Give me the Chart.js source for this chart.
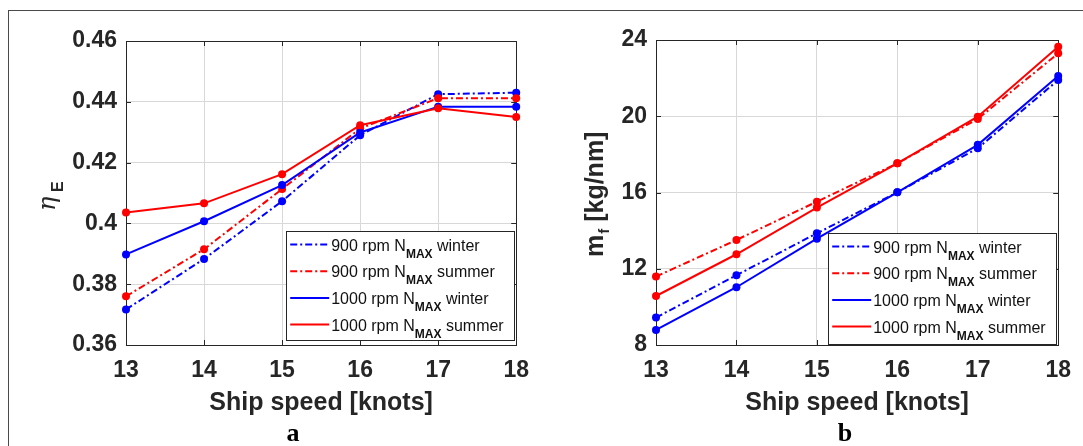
<!DOCTYPE html>
<html>
<head>
<meta charset="utf-8">
<script src="https://cdn.jsdelivr.net/npm/chart.js@4.4.1/dist/chart.umd.min.js"></script>
<style>
  body { margin: 0; background: #fff; }
  #wrap { position: relative; width: 1083px; height: 446px; overflow: hidden; }
  #frame { position: absolute; left: 8px; top: 10px; width: 1200px; height: 600px;
           border-left: 1.5px solid #4a4a4a; border-top: 1.5px solid #4a4a4a; }
  canvas { position: absolute; top: 0; }
</style>
</head>
<body>
<div id="wrap">
  <div id="frame"></div>
  <canvas id="chartA" width="541" height="446" style="left:0px"></canvas>
  <canvas id="chartB" width="542" height="446" style="left:541px"></canvas>
</div>
<script>
// ship speed [knots]
const speeds = [13, 14, 15, 16, 17, 18];

// engine efficiency eta_E
const effWinter900 = [0.3717, 0.3883, 0.4073, 0.4290, 0.4425, 0.4430];
const effSummer900 = [0.3760, 0.3915, 0.4113, 0.4312, 0.4412, 0.4412];
const effWinter1000 = [0.3898, 0.4007, 0.4126, 0.4299, 0.4384, 0.4384];
const effSummer1000 = [0.4036, 0.4066, 0.4162, 0.4323, 0.4379, 0.4350];

// fuel consumption m_f [kg/nm]
const fuelWinter900 = [9.44, 11.66, 13.86, 16.01, 18.32, 21.90];
const fuelSummer900 = [11.59, 13.51, 15.52, 17.53, 19.86, 23.30];
const fuelWinter1000 = [8.79, 11.03, 13.58, 16.01, 18.50, 22.11];
const fuelSummer1000 = [10.57, 12.76, 15.21, 17.53, 19.98, 23.65];

// tick labels
const speedTicks = [13, 14, 15, 16, 17, 18];
const effTicks = [0.36, 0.38, 0.4, 0.42, 0.44, 0.46];
const fuelTicks = [8, 12, 16, 20, 24];

// legend text: "<rpm> N_MAX <season>"
const legendRpm = ["900 rpm", "900 rpm", "1000 rpm", "1000 rpm"];
const legendSeason = ["winter", "summer", "winter", "summer"];

const BLUE = "#0000ff";
const RED = "#ff0000";
const INK = "#262626";
const DASHDOT = [7, 3, 2, 3];
const seriesColors = [BLUE, RED, BLUE, RED];
const seriesDash = [DASHDOT, DASHDOT, [], []];

function makeDatasets(values) {
  return values.map((vals, i) => ({
    label: legendRpm[i] + " N_MAX " + legendSeason[i],
    data: speeds.map((s, j) => ({ x: s, y: vals[j] })),
    borderColor: seriesColors[i],
    backgroundColor: seriesColors[i],
    borderWidth: 2,
    borderDash: seriesDash[i],
    pointRadius: 4,
    pointBorderWidth: 0,
    pointBackgroundColor: seriesColors[i],
    tension: 0,
    clip: false,
    order: 4 - i, // last series on top, like the original plot
  }));
}

// box, inward tick marks (drawn under the lines)
function drawAxesBox(chart) {
  const { ctx, chartArea: a, scales } = chart;
  ctx.save();
  ctx.strokeStyle = INK;
  ctx.lineWidth = 1;
  ctx.beginPath();
  scales.x.ticks.forEach((t) => {
    const px = Math.round(scales.x.getPixelForValue(t.value)) + 0.5;
    ctx.moveTo(px, a.bottom);
    ctx.lineTo(px, a.bottom - 5);
    ctx.moveTo(px, a.top);
    ctx.lineTo(px, a.top + 5);
  });
  scales.y.ticks.forEach((t) => {
    const py = Math.round(scales.y.getPixelForValue(t.value)) + 0.5;
    ctx.moveTo(a.left, py);
    ctx.lineTo(a.left + 5, py);
    ctx.moveTo(a.right, py);
    ctx.lineTo(a.right - 5, py);
  });
  ctx.stroke();
  ctx.strokeRect(Math.round(a.left) + 0.5, Math.round(a.top) + 0.5,
    Math.round(a.width), Math.round(a.height));
  ctx.restore();
}

function drawLegend(ctx, a, box) {
  const left = a.right - box.right - box.width;
  const top = a.bottom - box.bottom - box.height;
  ctx.save();
  ctx.fillStyle = "#fff";
  ctx.fillRect(left, top, box.width, box.height);
  ctx.strokeStyle = INK;
  ctx.lineWidth = 1;
  ctx.strokeRect(Math.round(left) + 0.5, Math.round(top) + 0.5, box.width, box.height);
  for (let i = 0; i < legendRpm.length; i++) {
    const y = top + 13.5 + i * 26.7;
    ctx.strokeStyle = seriesColors[i];
    ctx.lineWidth = 2;
    ctx.setLineDash(seriesDash[i]);
    ctx.beginPath();
    ctx.moveTo(left + 4, y);
    ctx.lineTo(left + 43, y);
    ctx.stroke();
    ctx.setLineDash([]);

    ctx.fillStyle = "#111";
    ctx.textAlign = "left";
    ctx.textBaseline = "alphabetic";
    let x = left + 45;
    ctx.font = "16px Arial";
    const main = legendRpm[i] + " N";
    ctx.fillText(main, x, y + 6);
    x += ctx.measureText(main).width;
    ctx.font = "bold 12px Arial";
    ctx.fillText("MAX", x, y + 13);
    x += ctx.measureText("MAX").width;
    ctx.font = "16px Arial";
    ctx.fillText(" " + legendSeason[i], x, y + 6);
  }
  ctx.restore();
}

function drawEtaTitle(ctx) {
  ctx.save();
  ctx.translate(55, 211);
  ctx.rotate(-Math.PI / 2);
  ctx.fillStyle = INK;
  ctx.textAlign = "left";
  ctx.textBaseline = "alphabetic";
  ctx.font = "italic 24px 'DejaVu Serif'";
  ctx.fillText("η", 0, 0);
  ctx.font = "bold 16px Arial";
  ctx.fillText("E", 19, 8);
  ctx.restore();
}

function drawFuelTitle(ctx) {
  ctx.save();
  ctx.translate(603 - 541, 257);
  ctx.rotate(-Math.PI / 2);
  ctx.fillStyle = INK;
  ctx.textAlign = "left";
  ctx.textBaseline = "alphabetic";
  ctx.font = "bold 25px Arial";
  ctx.fillText("m", 0, 0);
  let u = ctx.measureText("m").width + 1;
  ctx.font = "bold 15px Arial";
  ctx.fillText("f", u, 6);
  u += ctx.measureText("f").width;
  ctx.font = "bold 25px Arial";
  ctx.fillText(" [kg/nm]", u, 0);
  ctx.restore();
}

const decoPlugin = {
  id: "deco",
  beforeDatasetsDraw(chart) {
    drawAxesBox(chart);
  },
  afterDraw(chart, args, opts) {
    const { ctx, chartArea: a } = chart;
    drawLegend(ctx, a, opts.legendBox);
    ctx.save();
    ctx.fillStyle = INK;
    ctx.textAlign = "center";
    ctx.textBaseline = "middle";
    ctx.font = "bold 25px Arial";
    ctx.fillText("Ship speed [knots]", (a.left + a.right) / 2, a.bottom + 58);
    ctx.fillStyle = "#000";
    ctx.font = "bold 26px 'Liberation Serif'";
    ctx.fillText(opts.caption, opts.captionX, a.bottom + 89);
    ctx.restore();
    opts.yTitle(ctx);
  },
};

function makeChart(canvasId, values, yTicks, yMin, yMax, area, deco) {
  const canvas = document.getElementById(canvasId);
  return new Chart(canvas, {
    type: "line",
    data: { datasets: makeDatasets(values) },
    plugins: [decoPlugin],
    options: {
      responsive: false,
      animation: false,
      devicePixelRatio: 1,
      layout: {
        padding: { left: 0, top: area.top, right: canvas.width - area.right, bottom: 0 },
      },
      scales: {
        x: {
          type: "linear",
          min: 13,
          max: 18,
          afterBuildTicks: (scale) => {
            scale.ticks = speedTicks.map((v) => ({ value: v }));
          },
          afterFit: (scale) => {
            scale.height = canvas.height - area.bottom;
          },
          ticks: {
            color: INK,
            font: { family: "Arial", size: 23, weight: "bold" },
            padding: 12,
            maxRotation: 0,
            callback: (v) => String(v),
          },
          grid: { color: "#d8d8d8", lineWidth: 1, drawTicks: false },
          border: { color: INK, width: 1 },
        },
        y: {
          type: "linear",
          min: yMin,
          max: yMax,
          afterBuildTicks: (scale) => {
            scale.ticks = yTicks.map((v) => ({ value: v }));
          },
          afterFit: (scale) => {
            scale.width = area.left;
          },
          ticks: {
            color: INK,
            font: { family: "Arial", size: 23, weight: "bold" },
            padding: 9,
            callback: (v) => String(v),
          },
          grid: { color: "#d8d8d8", lineWidth: 1, drawTicks: false },
          border: { color: INK, width: 1 },
        },
      },
      plugins: {
        legend: { display: false },
        tooltip: { enabled: false },
        deco: deco,
      },
    },
  });
}

makeChart(
  "chartA",
  [effWinter900, effSummer900, effWinter1000, effSummer1000],
  effTicks, 0.36, 0.46,
  { left: 126, right: 517, top: 41, bottom: 345 },
  {
    legendBox: { right: 2, bottom: 5, width: 228, height: 109 },
    caption: "a",
    captionX: 293,
    yTitle: drawEtaTitle,
  }
);

makeChart(
  "chartB",
  [fuelWinter900, fuelSummer900, fuelWinter1000, fuelSummer1000],
  fuelTicks, 8, 24,
  { left: 656 - 541, right: 1067 - 541, top: 40, bottom: 345 },
  {
    legendBox: { right: 2, bottom: 1, width: 228, height: 111 },
    caption: "b",
    captionX: 845 - 541,
    yTitle: drawFuelTitle,
  }
);
</script>
</body>
</html>
